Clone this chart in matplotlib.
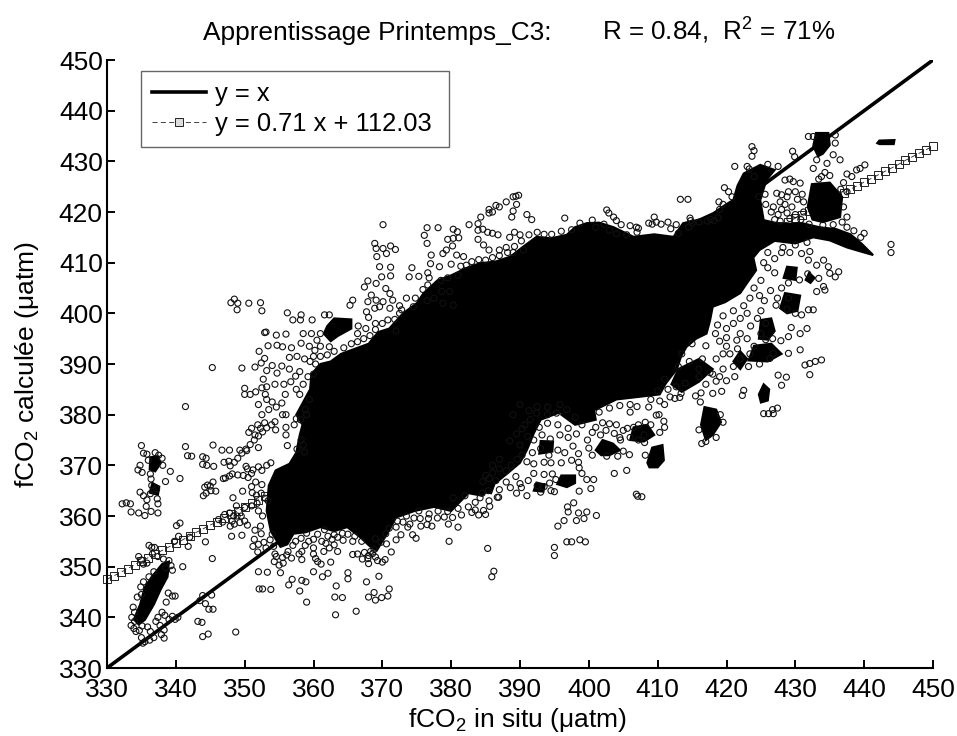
import matplotlib
matplotlib.use("Agg")
import matplotlib.pyplot as plt
from matplotlib.lines import Line2D

plt.rcParams['font.family'] = ['Liberation Sans', 'DejaVu Sans']
plt.rcParams['mathtext.fontset'] = 'custom'
plt.rcParams['mathtext.rm'] = 'Liberation Sans'
plt.rcParams['mathtext.default'] = 'regular'

TITLE_LEFT = "Apprentissage Printemps_C3:"
TITLE_RIGHT = "R = 0.84,  R$^2$ = 71%"
XLABEL = "fCO$_2$ in situ (\u03bcatm)"
YLABEL = "fCO$_2$ calcul\u00e9e (\u03bcatm)"
TICKS = [330, 340, 350, 360, 370, 380, 390, 400, 410, 420, 430, 440, 450]

identity_x = [330, 450]
identity_y = [330, 450]

fit_x = list(range(330, 451))
fit_y = [347.5, 348.2, 348.9, 349.6, 350.4, 351.1, 351.8, 352.5, 353.2, 353.9, 354.6, 355.3, 356.1, 356.8, 357.5,
         358.2, 358.9, 359.6, 360.3, 361.0, 361.8, 362.5, 363.2, 363.9, 364.6, 365.3, 366.0, 366.7, 367.5, 368.2,
         368.9, 369.6, 370.3, 371.0, 371.7, 372.4, 373.2, 373.9, 374.6, 375.3, 376.0, 376.7, 377.4, 378.1, 378.9,
         379.6, 380.3, 381.0, 381.7, 382.4, 383.1, 383.8, 384.6, 385.3, 386.0, 386.7, 387.4, 388.1, 388.8, 389.5,
         390.3, 391.0, 391.7, 392.4, 393.1, 393.8, 394.5, 395.2, 396.0, 396.7, 397.4, 398.1, 398.8, 399.5, 400.2,
         400.9, 401.7, 402.4, 403.1, 403.8, 404.5, 405.2, 405.9, 406.6, 407.4, 408.1, 408.8, 409.5, 410.2, 410.9,
         411.6, 412.3, 413.1, 413.8, 414.5, 415.2, 415.9, 416.6, 417.3, 418.0, 418.8, 419.5, 420.2, 420.9, 421.6,
         422.3, 423.0, 423.7, 424.5, 425.2, 425.9, 426.6, 427.3, 428.0, 428.7, 429.4, 430.2, 430.9, 431.6, 432.3,
         433.0]

# Outlines of the zones where the circles merge into solid black
core_outline = [(355.2, 353.9), (353.8, 357), (353.2, 361), (353.5, 366), (354.5, 369), (356.5, 370.3), (357.5, 372.5),
                (358, 376), (358.4, 378), (357.5, 380), (359.5, 385), (359.7, 388), (361, 390), (362.5, 390.5), (364, 392),
                (366, 393), (368, 394), (369.4, 396.3), (371, 397), (373, 400), (375, 402), (376, 404), (378, 406.5),
                (380, 407.5), (382.3, 409), (384.2, 409.9), (386.4, 410.2), (388.6, 411.2), (390.5, 413.2), (392.4, 415.1),
                (394.5, 414.8), (396.8, 415.5), (398, 417), (399.7, 417.8), (401.5, 417.9), (403.6, 417), (406.5, 415.1),
                (409.5, 415.6), (412.3, 415.1), (413.7, 417.8), (416, 418.5), (418.1, 419.8), (419.7, 421.3), (421, 422.4),
                (421.6, 425.2), (422.5, 427.6), (424.9, 429.3), (427, 428.3), (425.8, 426.3), (424.9, 422.4), (425.4, 418.4),
                (428, 417.6), (431, 417.8), (433.5, 417), (436, 416.6), (438, 415.6), (439.6, 413.8), (441.3, 411.5),
                (439.5, 412.2), (437.5, 413), (435, 414.4), (432.6, 415), (430, 413.8), (427, 414.3), (424.8, 412.5), (423.9, 411),
                (424.3, 408.5), (423, 406), (422, 404), (419.8, 402.2), (418, 401.3), (417.6, 398.5), (417.1, 396), (415.6, 395),
                (414.2, 393.4), (413.4, 391.5), (412.8, 389), (411.2, 386.2), (410.3, 384), (407.2, 383.5), (404, 383), (401, 381),
                (398, 381), (395.5, 380.3), (393, 379), (392, 376.3), (391, 373), (390, 370.5), (388.7, 369), (386, 366),
                (384.5, 364), (382.5, 364.5), (380, 361), (377.5, 361.8), (374.7, 361), (372, 359.7), (370.7, 356.5), (369.2, 353.2),
                (368.2, 354), (366.8, 355.8), (364.9, 357.8), (363, 357), (361, 357.8), (358.9, 356.8), (357.1, 356.5), (356.2, 354.4)]
blob_outlines = [
    [(333.9, 339.6), (334.8, 342.5), (335.5, 346), (336.5, 348), (338, 350.5), (339, 351), (338.8, 348),
     (337.8, 345.5), (336.8, 342.5), (335.5, 339.5), (334.6, 338.6)],
    [(336.2, 369.2), (336.3, 371.6), (337.4, 371.8), (337.8, 370.4), (337, 368.8)],
    [(336.2, 364.6), (336.6, 366.5), (337.6, 365.8), (337.4, 364.2)],
    [(362, 397.5), (363, 399), (365.5, 398.8), (365.5, 397), (363.5, 395.5), (362.5, 394.5), (361.5, 396)],
    [(432.6, 433), (433, 435.6), (434.8, 435.6), (435, 433.2), (434, 431.5), (433.3, 431)],
    [(441.9, 433.6), (442.2, 434.1), (444.4, 434.2), (444.3, 433.4), (442.2, 433.4)],
    [(431.8, 421), (432.4, 425.5), (435, 425.8), (436.8, 423), (436.5, 419), (434, 418), (432.5, 418.5)],
    [(416.3, 378), (416.8, 381.5), (418.5, 381), (419.2, 378.5), (418, 376), (417, 375)],
    [(424.7, 384), (425.4, 386), (426.2, 385), (426, 382.8), (425, 382.4)],
    [(408.5, 370.5), (409.2, 373.5), (410.7, 374), (410.9, 371), (410, 369.6), (408.8, 369.6)],
    [(395.4, 366.3), (396, 368), (398, 368), (398, 366.5), (396.8, 365.7)],
    [(401, 373), (402, 375), (403.5, 374.3), (404.5, 373), (403, 372), (401.8, 372)],
    [(424.7, 395), (425, 398.7), (426.5, 399), (427, 396.5), (426, 394.8)],
    [(427.8, 401), (428.5, 404), (430.7, 403.5), (430.3, 400.5), (428.8, 400)],
    [(428.3, 407), (428.8, 409.2), (430.2, 409), (430, 406.6)],
    [(431.5, 406.6), (432, 408), (432.8, 407), (432.2, 406)],
    [(423.2, 390.7), (424, 393.6), (426.5, 394), (428, 392), (426, 390.5)],
    [(406, 375), (406.5, 377.5), (408.5, 378), (409.5, 376), (408, 374.7)],
    [(392.8, 372.3), (393, 374.8), (394.8, 374.7), (394.7, 372.7)],
    [(387.8, 371), (388, 373.5), (390, 373.8), (389.6, 371.3)],
    [(392, 365), (392.4, 366.6), (393.6, 366.2), (393.4, 364.8)],
    [(384.7, 364.8), (385.2, 366.6), (386.2, 366), (385.8, 364.5)],
    [(396, 380), (397.5, 383), (400.5, 383), (401, 379), (398, 378)],
    [(412, 386), (413, 389), (416, 391), (418, 389), (416, 386.5), (413.5, 384.5)],
    [(421, 390.5), (422, 392.5), (423, 391), (422, 389)],
    [(360, 381), (361, 384), (364, 383), (366, 381), (364, 379.3), (361.5, 379)],
    [(359.5, 372), (361, 377), (363, 377), (362, 371)],
]

# Individually readable circles, grouped by area of the plot
pts_lower_left = [(335, 373.9), (335.3, 372.4), (335.8, 372.2), (337, 372.5), (337.5, 372), (336, 371), (338, 371.4),
    (334.5, 369.1), (334.8, 370), (335.1, 368.6), (336.3, 368.3), (336.4, 367.3), (338.1, 370), (339.2, 368.8),
    (338.5, 366.8), (340.6, 367.4), (336.5, 366), (336.8, 365), (337.2, 365.3), (336.3, 364.4), (334.8, 364.7),
    (335.3, 364), (335.8, 363.2), (337.3, 363.4), (337.4, 362.4), (332.2, 362.4), (332.8, 362.6), (333.4, 362.4),
    (333.5, 360.8), (334.6, 360.6), (335.5, 360.1), (336.4, 360.9), (337.4, 360.6), (335.7, 361.9),
    (334.6, 352), (335, 351.3), (335.3, 350.5), (335.8, 350.7), (336.1, 354.2), (336.5, 353.8), (336.9, 353.8),
    (336.6, 352.5), (337.4, 352), (338.2, 351.5), (339, 351.2), (339.3, 350.2), (338.5, 349.8), (339.5, 349.3),
    (335, 344.5), (334.4, 344), (334.9, 346), (335.3, 347), (336.1, 348), (336.8, 349), (339.5, 344.2), (339.9, 344.2),
    (338.6, 343), (338.9, 344.8), (333.8, 342), (334, 341), (333.6, 340), (334, 339.2), (333.5, 338.4), (333.9, 337.8),
    (334.2, 337.2), (334.7, 337.4), (335.1, 338.3), (335.9, 338.1), (336.3, 337.2), (335, 336), (335.5, 335.2),
    (335.2, 334.9), (336.2, 335.5), (336.8, 336), (337.7, 338.4), (338.3, 337.5), (337.9, 336.6), (338.3, 335.9),
    (337.4, 340), (338, 341), (338.4, 340.4), (339, 339.6), (339.5, 340.2), (339.9, 339.6), (337.1, 339.2),
    (340.3, 340), (343.2, 339.2), (343.8, 339), (343.9, 336.2), (344.7, 336.7), (343.9, 344.3), (344.3, 342.7),
    (345.2, 344.4), (344.8, 341.6), (345.4, 341.6), (343.5, 343.3), (348.7, 337.1), (345.3, 351.6), (344.3, 354.9),
    (341, 350), (341.8, 354), (342, 355.8), (339.8, 355), (340.4, 356), (340.6, 358.6), (340.1, 358.1)]

pts_mid_left = [(341.4, 381.6), (341.4, 373.7), (341.7, 371.9), (342.3, 371.8), (345.4, 374), (346.7, 373), (347.8, 373),
    (343.9, 371.7), (344.4, 371.4), (343.9, 370.2), (344.5, 370), (345.5, 369.8), (347, 370.6), (347.7, 370.8),
    (347.9, 369.9), (348.5, 370.6), (349, 371.4), (349.6, 372.4), (350.2, 373.2), (350.8, 374.1), (351.4, 375),
    (352, 375.8), (352.6, 376.6), (353.2, 377.4), (353.9, 378), (354.4, 378.6), (351.5, 376), (352.3, 377.3),
    (352.9, 378.4), (350.3, 372.9), (352, 373.5), (349.3, 373), (350.6, 376.5), (351, 377.3), (351.9, 378),
    (344.2, 365.7), (344.6, 366.1), (345, 365.9), (345.4, 366.7), (344, 364), (344.4, 364.5), (345.1, 365), (345.8, 364.9),
    (346.9, 367.4), (347.2, 367.5), (347.8, 367.9), (348.2, 368.3), (349, 368.1), (349.8, 368), (350.5, 367.6),
    (351, 368.4), (350.2, 369.8), (350.4, 369.3), (351.2, 369.1), (352, 369.7), (352.5, 369), (353.2, 370), (353.8, 370.5),
    (349.7, 364.9), (348.3, 363.6), (348.8, 362), (350, 361.7), (351, 362), (351.8, 362.5), (352, 361), (352.6, 360),
    (347.1, 360.3), (347.8, 360.6), (348.4, 360), (348.9, 360), (348.2, 359), (348.5, 358.4), (347.9, 358),
    (346.2, 359.3), (346.8, 358.8), (349.3, 358.7), (350, 359), (350.4, 358.2), (349.6, 356.2), (348.1, 356),
    (351.1, 364.6), (351.7, 364.1), (352.4, 364.5), (353, 363.5), (353.4, 363), (352.5, 366.2), (351.6, 366.7),
    (351, 365.8), (349.5, 360), (351.5, 357.2), (352.3, 358), (351.4, 355.4), (352, 354.4), (352.8, 354.8), (351.2, 354),
    (351.9, 352.9), (353.1, 353.7), (353.7, 355.3), (354, 356.4), (354.2, 354), (354.4, 352.5), (352.4, 356.5),
    (352, 349), (353.3, 348.9), (352.1, 345.6), (352.6, 345.6), (353.8, 345.5), (354.3, 351), (355, 350.3), (355.6, 350.7),
    (355.2, 348.8), (354.6, 352), (355.5, 351.8), (356.1, 352.3), (356.8, 351.7), (357.9, 352.5), (358.3, 351.4)]

pts_below_core = [(356.4, 346.4), (356.9, 347.5), (358, 345.2), (358.3, 347.3), (358.9, 347), (359, 343), (360, 349),
    (361.3, 348), (362.1, 348.7), (363.1, 344), (363.2, 340.5), (363.3, 346.2), (364.2, 343.9), (365, 347.6), (365, 348.8),
    (366.2, 341.2), (367.7, 347), (368, 344), (368.8, 344.9), (369, 343.4), (369.5, 348.1), (369.9, 343.9), (370.8, 344.2),
    (371, 345.6), (358.3, 353), (358.8, 354.2), (359.3, 355), (360, 353.7), (360, 352.5), (360.3, 351.6), (360.6, 351),
    (361.1, 350.5), (362.5, 350.9), (361.5, 353), (362.3, 353.7), (363, 354.3), (363.5, 353), (364.3, 355.2), (365.7, 352.4),
    (366.4, 352.5), (367.1, 351.5), (367.9, 351.6), (368, 350.6), (369, 351.9), (369.3, 351.2), (370, 350.9),
    (370.4, 351.4), (371.3, 352.9), (368.3, 353), (368.8, 353.4), (367, 355), (365.7, 355), (372, 355.3), (372.7, 356.3),
    (373.7, 357.8), (374.4, 356.3), (374.9, 355.6), (375.6, 358), (376.5, 358.3), (377.2, 358), (376.8, 360.4),
    (378.1, 361), (379.5, 360.9), (379.7, 355), (379.6, 358.4), (381, 357.8), (383, 360.7), (384, 360.2), (385, 360.3),
    (370.5, 356.5), (372.2, 359), (373.5, 360), (374.6, 359.6), (375.3, 361), (362.1, 356), (363, 356.3), (360.6, 356.4),
    (361.6, 357.3), (359, 356.6), (380.3, 363.6), (382, 364), (383.5, 362.7), (384.2, 363.6), (381, 361.5),
    (361.2, 355), (361.8, 354.6), (362.7, 355.4), (363.5, 355.8), (364.2, 356.6), (365, 356.4), (366, 356), (360, 355.4),
    (358.2, 355.6), (357.4, 355), (357, 354.2), (356.3, 353), (369, 355.5), (369.8, 354.8), (370.6, 354.5), (371, 357.6),
    (372, 357.8), (373, 358.8), (374, 358.4), (375.5, 359.5), (376.7, 359.5), (378, 359.6), (379, 359.8), (380.2, 359.7),
    (381.5, 360.2), (382.5, 361.8), (383.5, 361.2), (368, 352.2), (367.4, 352.8), (368.6, 352.6)]

pts_upper_left = [(348, 402.1), (348.5, 402.8), (349, 402), (348.9, 400.7), (350.6, 402), (352.3, 402.1), (352.5, 400.5),
    (356.2, 400.1), (358.2, 399.7), (357, 398.7), (358.1, 398.7), (359.8, 398.7), (361.6, 399.7), (362.3, 399.7),
    (352.9, 396.2), (353.1, 396.3), (354.6, 395.7), (356, 395.9), (358.5, 396), (359.7, 396), (361, 396), (353.4, 393.6),
    (354.7, 393.7), (355.5, 393.4), (356.8, 393.2), (358.2, 394.1), (352.1, 392.5), (352.9, 391.1), (352.4, 390.2),
    (351.5, 389.4), (349.6, 389.2), (345.3, 389.3), (351.6, 384.5), (352.5, 385.3), (350, 385.2), (350, 384), (350.8, 384),
    (353.2, 385.5), (353, 384), (354.4, 386), (355.7, 386), (356.7, 386.5), (357.5, 385), (358, 384), (355.9, 384),
    (353.2, 383), (354, 382.5), (355.4, 382.3), (354.6, 381.5), (353.5, 381), (355.5, 380), (356, 380), (357.5, 379.2),
    (358.1, 379), (357.2, 378), (356, 377.5), (354.5, 377), (356, 376), (358.2, 375), (358.5, 374), (356.2, 373.9),
    (357.6, 373.2), (358.7, 372.6), (352.5, 380), (352, 382), (358.8, 381), (359, 380), (359.4, 383), (358.5, 386),
    (359.2, 387.5), (360, 388), (360.3, 390), (359.5, 390.5), (358, 388.5), (357.4, 387.6), (356.5, 389), (355.4, 389.6),
    (354.7, 388.2), (354, 389.7), (353.2, 388.7), (352.7, 387), (361, 391.5), (362, 391.8), (363, 392.5), (364.4, 393.2),
    (365.5, 394), (366.4, 394.4), (367.3, 395), (368.2, 395.6), (366.4, 396), (366.5, 397.5), (367.6, 397), (369, 396.8),
    (370, 398), (370.8, 398.7), (369, 398), (368, 399.2), (371.8, 398.8), (372.5, 400), (372, 396.5), (360, 391.5), (358.7, 391),
    (357.6, 391.5), (356.5, 391.3), (360.2, 392.7), (359.4, 393.5), (361, 393.5), (362.3, 393.4), (360.5, 394.7),
    (370.1, 417.5), (368.9, 413.8), (369.1, 412.8), (370.1, 412.8), (371.2, 413.3), (371.9, 412.6), (370.6, 411.8),
    (369.2, 411.2), (369.6, 409.2), (371.2, 409.1), (369.9, 407.2), (371.2, 407.4), (367.9, 406.4), (367.4, 405.2),
    (369.1, 405.9), (370.5, 404.9), (371.1, 403.9), (368.4, 403.6), (369.1, 402.6), (367.9, 402.3), (370.1, 402.3),
    (371.5, 402.6), (367.7, 400.3), (368.9, 401), (369.6, 401.3), (365.7, 402.6), (365.3, 401.6), (371.1, 401),
    (372.8, 400.7), (376.5, 416.9), (376.1, 415.4), (376.5, 413.8), (378.1, 416.9), (380.3, 416.6), (380.9, 416.1),
    (379.5, 414.6), (380.3, 414.8), (381.1, 414.9), (382.6, 417.5), (383.9, 417.7), (383.9, 416.4), (383.9, 414.6),
    (378.8, 411.8), (379.3, 412.5), (380.2, 413.3), (380.8, 411.5), (381.8, 411.2), (377.1, 411.5), (377, 409.8),
    (374.3, 409), (373.9, 407.2), (375.3, 407.3), (376.6, 408), (376.8, 407), (378.3, 409.2), (380, 409.7), (381.4, 409.3),
    (375.9, 404.7), (376.6, 405.6), (378.6, 404.3), (379.8, 404.3), (374.5, 401.3), (378.8, 402), (380.3, 401.6),
    (372.5, 401.5), (373.5, 403), (374.8, 403), (376.5, 402.5), (377.5, 403), (378.5, 406.5), (379.5, 407), (381, 407.5),
    (382.2, 409.5), (383, 410.2), (384, 410.6), (385, 410.5), (386, 411), (387, 411.4), (388.2, 412), (389.2, 413.2),
    (390.2, 414.3), (391.3, 415.5), (384.3, 419), (385.5, 420.5), (385.5, 419.8), (386, 420), (387, 421), (386.5, 421.3), (388, 422), (389, 423),
    (389.4, 423.1), (389.8, 423.3), (389.5, 421.5), (389, 420.2), (388.8, 419), (391, 419.5), (391.7, 418.5),
    (384.6, 416.6), (385.3, 416), (386, 415.8), (386.8, 415.5), (388.5, 415), (389.2, 416), (390, 415.5), (384.7, 413.5),
    (385.5, 412.5), (387, 412.5), (388, 413), (389, 412), (390.5, 412.5), (396.5, 418.8), (402.2, 417.6),
    (392.5, 416), (393.5, 415.6), (394.6, 415.6), (396, 416.2), (397.5, 416.5), (398.7, 417.8), (400.5, 418.4)]

pts_upper_right = [(402.6, 420.4), (402.9, 419.8), (403.6, 419), (404, 418.3), (401, 417), (403, 416.4), (404.7, 417.5),
    (406, 417.3), (406.9, 417), (407.2, 416.8), (404, 415.7), (405.5, 415.5), (407, 416), (408.7, 417.8), (409.2, 417.6),
    (409.5, 419), (409.8, 418), (410.5, 417.6), (411.5, 418), (411.9, 416.7), (412.7, 417.5), (413, 415.8),
    (413.3, 422.5), (414.4, 422.5), (414.8, 418.3), (415, 417.8), (414.5, 417), (416, 418), (417.2, 418.2),
    (417.7, 418.5), (418.2, 418.3), (418.8, 418.8), (414.7, 418.8), (419.5, 421.5), (419, 420.5), (418.9, 422),
    (420.8, 423), (420.3, 424), (419.7, 424.8), (421.2, 429), (423.7, 432.9), (424, 432.1), (423.7, 431),
    (429.6, 432), (429.9, 430.9), (431.9, 434.9), (432.6, 434.9), (435.8, 435.2), (435.8, 433.6), (435.5, 431.3), (436.5, 430.3),
    (433.1, 430.3), (432.6, 428.6), (434.6, 429.6), (434.3, 427.8), (435, 427.2), (433.8, 427), (433.4, 426.5),
    (437.5, 427.5), (438.2, 427), (438.9, 428.3), (439.4, 428.6), (440.1, 429.3), (437, 425.8), (437.5, 424), (436.6, 424.5),
    (440, 415.8), (443.9, 413.6), (443.9, 412), (430.7, 425.7), (428.5, 426.3), (429.2, 426.5), (429.7, 426), (427.3, 423.7),
    (428, 423.4), (428.8, 423), (430.3, 422.5), (429.5, 421), (428.5, 421.5), (427.8, 422), (426.8, 421), (427.5, 419.5),
    (428.8, 419.8), (430, 419.5), (431.2, 420), (430.8, 418.5), (432, 417.6), (427, 418.5), (425.7, 421.5),
    (424.7, 423), (425.6, 423.5), (437, 421), (437.5, 419), (436.8, 418), (435.5, 417.5), (434, 417.4),
    (429, 424), (430, 424), (431, 423.5), (431.2, 422), (426.5, 420), (428, 420.5), (429.2, 418.7), (427.8, 418.2),
    (437.5, 417), (438.5, 416.3), (439.5, 415), (424, 427), (423.3, 428.5), (427.5, 429), (426, 429.4), (423, 429)]

pts_lower_right = [(430.9, 411.8), (432.1, 412.2), (431.9, 410.5), (433.1, 409.5), (434.1, 410.5), (434.8, 409.2),
    (436.3, 408.2), (435.8, 407.2), (435, 407.9), (433.4, 406.9), (433.1, 404.3), (434.1, 405.3), (434.3, 404.6),
    (431.9, 400.7), (432.6, 400.7), (430.9, 399.7), (431.7, 397), (430.7, 396), (433.8, 390.8), (432.9, 390.5),
    (432.1, 390.1), (431.4, 389.8), (430.7, 392.8), (429, 392.1), (426.3, 391.1), (426.8, 392.1), (432.1, 387.9),
    (428, 385.8), (428.7, 387.4), (427.5, 387.8), (422.5, 384.8), (422.3, 383.8), (425.4, 380.2), (426.1, 380.2),
    (426.8, 380.2), (427.4, 381.3), (426.7, 381), (429.2, 412), (428.2, 413), (430, 413.5), (431.7, 414), (427, 410.8),
    (426, 409), (427, 408), (429, 406), (430.6, 406.6), (431.8, 407.8), (428, 405), (426.4, 404.5), (427.4, 403),
    (429, 403), (430, 400), (428.8, 400.8), (427.2, 401.6), (425.5, 402.5), (425, 400.5), (424.5, 399), (425.7, 398),
    (425, 396), (425.7, 394.8), (426.7, 395), (427.9, 394.6), (429, 395.4), (429.4, 397.2), (424, 393.5), (423.4, 392),
    (422, 391), (423.2, 389.5), (424.8, 390), (421.6, 393), (420, 395.2), (419.5, 392), (418.5, 391), (417, 393.6),
    (416.5, 391), (415, 394), (419.5, 389), (417.6, 388.3), (416, 389), (414.6, 390.5), (413.5, 392), (413, 389.5),
    (421.2, 387.5), (420, 386.7), (418.5, 386.6), (417, 386), (416.3, 384.3), (418, 384.2), (419.3, 384.6), (415.5, 383.7),
    (413.4, 384.2), (412.7, 385.5), (411.8, 383.5), (412.5, 383.2), (413.2, 383.4), (411, 387), (410, 384.7), (411, 382),
    (416.2, 382.5), (419.1, 380), (418.5, 375.5), (417, 374.7), (416.4, 374.3), (416, 377), (419.5, 378.5),
    (406, 380.5), (407, 381.6), (408.7, 381.5), (409.8, 379.9), (410.2, 380), (410.9, 378.7), (411, 377.5), (410.3, 376.5),
    (409, 378), (408.2, 378.5), (407.2, 378), (406.5, 377.5), (405.6, 377.3), (405, 376.9), (404, 378), (403, 378.2),
    (402, 378.4), (401, 377.5), (400.5, 376.5), (401.7, 376), (403.7, 376.3), (402.5, 376.9), (404.5, 375.5), (406, 375.5),
    (407.2, 375), (408, 376), (405, 372.8), (405.9, 372.1), (399.8, 375), (400, 373.4), (400.5, 372), (399, 378), (398, 379.5),
    (396.8, 381), (395.3, 380.3), (394, 380), (392.4, 380.3), (391.5, 379), (390.7, 378), (392.8, 377.5), (394, 378.3),
    (395.5, 378), (397, 377.3), (393.2, 376), (394.4, 375.2), (395.8, 376), (397, 375.5), (398.2, 376.2), (392, 375),
    (391.1, 375.7), (390, 374), (390.3, 372), (391.8, 372.5), (393, 373.3), (394.2, 372), (395.5, 373), (396.5, 372.5),
    (397.7, 373.8), (398.5, 372.3), (397.5, 371), (398.5, 370.6), (396, 370.5), (394.5, 370.5), (393.5, 370.6), (392, 370.3),
    (391, 370.7), (389.6, 371.2), (388.7, 370), (388, 368.9), (387, 369.3), (386, 368.5), (385.5, 367.4), (384.6, 366.8),
    (386.5, 367), (388, 366.7), (389.4, 367.8), (391.2, 367), (390, 366.4), (388.6, 365.6), (387, 365.2), (386.7, 363.7),
    (385.4, 365), (384.5, 364.5), (391, 364), (392.5, 366), (393.5, 365.8), (394.3, 366.5), (393, 364.7), (394.5, 365),
    (395, 364.8), (392, 368.4), (393.5, 368.2), (394.7, 368.3), (395.2, 367.2), (398.6, 369.5), (399, 368.4), (399.7, 367.2),
    (400.7, 367.2), (400.3, 365.4), (398.6, 364.9), (397.8, 362.6), (396.9, 361.8), (397, 360.8), (398.5, 360.6),
    (399.7, 360.8), (401.1, 360.1), (399.3, 359.5), (398.2, 359.1), (396.4, 359.1), (395.5, 358), (396.8, 354.9),
    (397.5, 354.9), (398.7, 355.3), (399.5, 354.9), (395, 353.8), (395, 352.2), (385.3, 353.6), (386.2, 349.1), (385.9, 348),
    (386.9, 363.7), (385.6, 361.9), (384.7, 361.1), (405.5, 369), (403.7, 368.4), (406.9, 364.3), (407.1, 363.9), (407.7, 363.8),
    (404.6, 375), (402.6, 371.8), (404.2, 371.8), (408.2, 372), (408.1, 374.5), (390, 382), (389, 380),
    (385.5, 363), (389.5, 364.5), (390.2, 365.6), (385, 368), (386, 370), (387, 371.2), (388.5, 374.8), (389.5, 376.2),
    (390.3, 377.2), (391.3, 380.8), (392.5, 381.6), (394, 381.5), (395.8, 382), (401.5, 380.5), (403, 381.3), (404.5, 381.8),
    (406, 382), (409, 383), (410.3, 382.7), (411.5, 385), (414, 386.2), (416, 387.5), (418, 388), (419, 387.5), (421, 389.5),
    (420.5, 392), (420, 393.5), (419, 394.5), (418.4, 396), (418.7, 397.7), (419.5, 399.5), (421, 400.5), (422.5, 401.5),
    (423.4, 403), (424, 405), (425, 406.5), (425.4, 410), (426, 412), (428, 412), (424.8, 403.5), (421, 398), (420, 397),
    (422, 396), (423, 395), (421.5, 394.7), (423.5, 397.5), (423, 400), (422, 399)]

point_groups = [pts_lower_left, pts_mid_left, pts_below_core, pts_upper_left, pts_upper_right, pts_lower_right]

fig = plt.figure(figsize=(9.57, 7.36), dpi=100)
ax = fig.add_axes([107 / 957, 1 - 668 / 736, (933 - 107) / 957, (668 - 60) / 736])

ax.plot(identity_x, identity_y, color='black', lw=2.6, solid_capstyle='butt', zorder=2)
ax.plot(fit_x, fit_y, color='#222222', ls=(0, (6, 4)), lw=0.6, marker='s', ms=6, mfc='none', mec='#222222', mew=0.7,
        zorder=2, clip_on=False)

for outline in [core_outline] + blob_outlines:
    xs, ys = zip(*outline)
    ax.fill(xs, ys, color='black', lw=1.5, zorder=3)
for group in point_groups:
    xs, ys = zip(*group)
    ax.scatter(xs, ys, s=19, facecolors='none', edgecolors='#111111', linewidths=0.8, zorder=4)

ax.set_xlim(330, 450)
ax.set_ylim(330, 450)
ax.set_xticks(TICKS)
ax.set_yticks(TICKS)
ax.tick_params(direction='in', length=6, width=1.4, labelsize=19, pad=3)
for side in ('top', 'right'):
    ax.spines[side].set_visible(False)
for side in ('left', 'bottom'):
    ax.spines[side].set_linewidth(1.5)
ax.tick_params(axis='x', pad=7)

handles = [Line2D([], [], color='black', lw=2.6),
           Line2D([], [], color='#222222', ls=(0, (6, 4)), lw=0.6, marker='s', ms=6, mfc='#dddddd', mec='#222222', mew=0.7)]
leg = ax.legend(handles, ['y = x', 'y = 0.71 x + 112.03 '], loc='upper left', bbox_to_anchor=(34 / 826, 1 - 11 / 608),
                fontsize=18.4, frameon=True, fancybox=False, edgecolor='#666666', framealpha=1, numpoints=1,
                handlelength=2.1, handletextpad=0.35, borderpad=0.43, labelspacing=0.22, borderaxespad=0)
leg.get_frame().set_linewidth(1)
leg.set_zorder(5)

fig.text(203 / 957, 1 - 40 / 736, TITLE_LEFT, fontsize=18.9, ha='left', va='baseline')
fig.text(602 / 957, 1 - 40 / 736, TITLE_RIGHT, fontsize=18.7, ha='left', va='baseline')
fig.text(517 / 957, 1 - 727 / 736, XLABEL, fontsize=19, ha='center', va='baseline')
fig.text(27 / 957, 1 - 365 / 736, YLABEL, fontsize=19, ha='center', va='center', rotation=90)

fig.savefig('out.png', dpi=100)
